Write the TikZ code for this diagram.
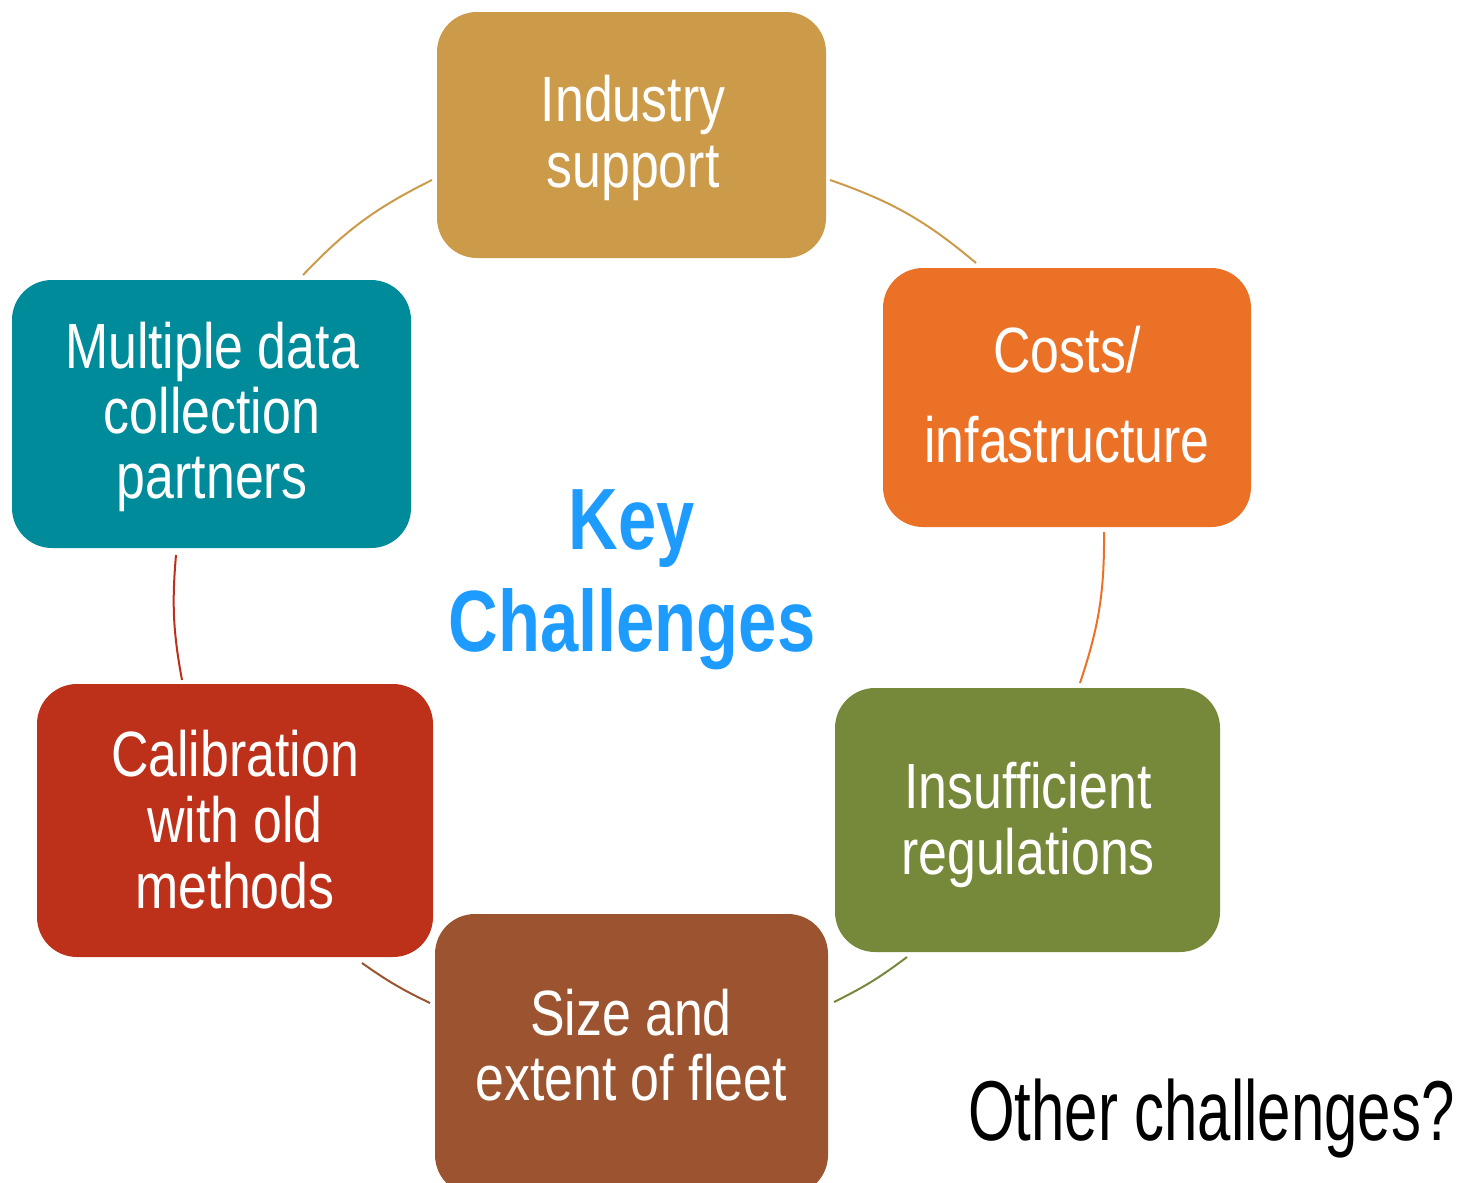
\documentclass[tikz,border=0pt]{standalone}
\usepackage{fontspec}
\setmainfont{Liberation Sans}[FakeStretch=0.81]
\newfontfamily\keyfont{Liberation Sans}[FakeStretch=0.79]
\newfontfamily\otherfont{Liberation Sans}[FakeStretch=0.705]
\definecolor{cGold}{HTML}{CC9B4A}
\definecolor{cOrange}{HTML}{EB7127}
\definecolor{cGreen}{HTML}{76883A}
\definecolor{cBrown}{HTML}{9B542F}
\definecolor{cRed}{HTML}{BD3019}
\definecolor{cTeal}{HTML}{008B9A}
\definecolor{cBlue}{HTML}{1E9BFF}
\newcommand{\mlines}[2]{\vtop{\baselineskip=#1\lineskiplimit=-1000pt\lineskip=0pt\halign{\hfil##\hfil\cr#2\crcr}}}
\begin{document}
\begin{tikzpicture}[x=1pt,y=-1pt,
  box/.style={rounded corners=40pt, inner sep=0pt, draw=none},
  txt/.style={text=white, inner sep=0pt, anchor=base, font=\fontsize{64}{64}\selectfont},
  ring/.style={line width=2pt}]
\useasboundingbox (0,0) rectangle (1465,1183);
% boxes
\node[box, fill=cGold,   minimum width=389pt, minimum height=246pt] (ind)  at (631.5,135) {};
\node[box, fill=cOrange, minimum width=368pt, minimum height=259pt] (cost) at (1067,397.5) {};
\node[box, fill=cGreen,  minimum width=385pt, minimum height=264pt] (ins)  at (1027.5,820) {};
\node[box, fill=cBrown,  minimum width=393pt, minimum height=281pt] (size) at (631.5,1054.5) {};
\node[box, fill=cRed,    minimum width=396pt, minimum height=273pt] (cal)  at (235,820.5) {};
\node[box, fill=cTeal,   minimum width=399pt, minimum height=268pt] (mult) at (211.5,414) {};
% texts
\node[txt] (indT)  at (633,121)  {\mlines{66pt}{Industry\cr support}};
\node[txt] (costT) at (1067,372) {\mlines{90pt}{Costs/\cr infastructure}};
\node[txt] (insT)  at (1028,808) {\mlines{66pt}{Insufficient\cr regulations}};
\node[txt] (sizeT) at (631,1035) {\mlines{65pt}{Size and\cr extent of fleet}};
\node[txt] (calT)  at (235,776)  {\mlines{66pt}{Calibration\cr with old\cr methods}};
\node[txt] (multT) at (212,368)  {\mlines{65pt}{Multiple data\cr collection\cr partners}};
\node[anchor=base, inner sep=0pt, text=cBlue, font=\keyfont\bfseries\fontsize{87}{87}\selectfont] (key) at (632,549) {\mlines{102pt}{Key\cr Challenges}};
\node[anchor=base west, inner sep=0pt, font=\otherfont\fontsize{85}{85}\selectfont] (other) at (968,1140) {Other challenges?};
% ring arc end points
\coordinate (mI1) at (303,275);
\coordinate (mI2) at (432,180);
\coordinate (iC1) at (830,180);
\coordinate (iC2) at (976,263);
\coordinate (cR1) at (1104,532);
\coordinate (cR2) at (1080,683);
\coordinate (rS1) at (907,957);
\coordinate (rS2) at (834,1002);
\coordinate (sC1) at (430,1003);
\coordinate (sC2) at (362,963);
\coordinate (cM1) at (182,680);
\coordinate (cM2) at (176,555);
% ring arcs
\draw[ring, draw=cGold]   (mI1) to[bend left=10] (mI2);
\draw[ring, draw=cGold]   (iC1) to[bend left=10.5] (iC2);
\draw[ring, draw=cOrange] (cR1) to[bend left=9.5] (cR2);
\draw[ring, draw=cGreen]  (rS1) to[bend left=5.4] (rS2);
\draw[ring, draw=cBrown]  (sC1) to[bend left=4.9] (sC2);
\draw[ring, draw=cRed]    (cM1) to[bend left=7.7] (cM2);
\end{tikzpicture}
\end{document}
